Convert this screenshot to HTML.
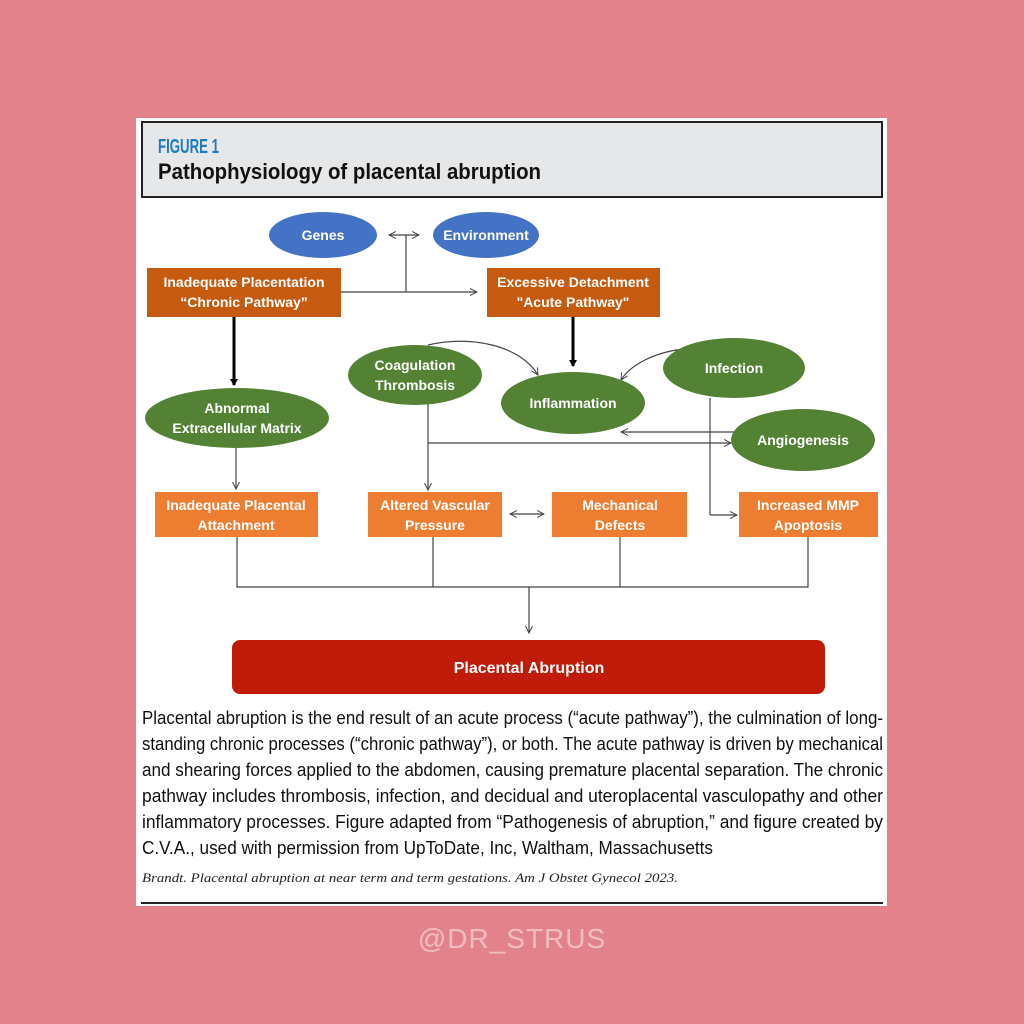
<!DOCTYPE html>
<html><head><meta charset="utf-8"><style>
html,body{margin:0;padding:0;background:#e2838c;}
svg{display:block;}
</style></head><body>
<svg width="1024" height="1024" viewBox="0 0 1024 1024" xmlns="http://www.w3.org/2000/svg" font-family="Liberation Sans, sans-serif">
<defs>
<marker id="a" markerWidth="8" markerHeight="8" refX="7" refY="4" orient="auto" markerUnits="userSpaceOnUse"><path d="M0,0.5 L7,4 L0,7.5" fill="none" stroke="#444" stroke-width="1"/></marker>
<marker id="as" markerWidth="8" markerHeight="8" refX="1" refY="4" orient="auto" markerUnits="userSpaceOnUse"><path d="M8,0.5 L1,4 L8,7.5" fill="none" stroke="#444" stroke-width="1"/></marker>
<marker id="b" markerWidth="8" markerHeight="8" refX="6" refY="4" orient="auto" markerUnits="userSpaceOnUse"><path d="M0,0 L7,4 L0,8 Z" fill="#000"/></marker>
</defs>
<rect x="0" y="0" width="1024" height="1024" fill="#e2838c"/>
<rect x="136" y="118" width="751" height="788" fill="#fff"/>
<rect x="142" y="122" width="740" height="75" fill="#e6e7e8" stroke="#222" stroke-width="2"/>
<text x="158" y="153" font-size="20" font-weight="bold" fill="#1a7dc2" textLength="61" lengthAdjust="spacingAndGlyphs">FIGURE 1</text>
<text x="158" y="179" font-size="22" font-weight="bold" fill="#111" textLength="383" lengthAdjust="spacingAndGlyphs">Pathophysiology of placental abruption</text>

<g stroke="#444" stroke-width="1.2" fill="none">
<line x1="389" y1="235" x2="419" y2="235" marker-end="url(#a)" marker-start="url(#as)"/>
<line x1="406" y1="235" x2="406" y2="292"/>
<line x1="341" y1="292" x2="477" y2="292" marker-end="url(#a)"/>
<path d="M428,345 C470,335 520,345 538,375" marker-end="url(#a)"/>
<path d="M684,349 C655,352 630,365 621,380" marker-end="url(#a)"/>
<line x1="428" y1="404" x2="428" y2="490" marker-end="url(#a)"/>
<line x1="428" y1="443" x2="731" y2="443" marker-end="url(#a)"/>
<line x1="734" y1="432" x2="621" y2="432" marker-end="url(#a)"/>
<line x1="710" y1="398" x2="710" y2="515"/>
<line x1="710" y1="515" x2="737" y2="515" marker-end="url(#a)"/>
<line x1="236" y1="448" x2="236" y2="489" marker-end="url(#a)"/>
<line x1="510" y1="514" x2="544" y2="514" marker-end="url(#a)" marker-start="url(#as)"/>
<polyline points="237,537 237,587 808,587 808,537"/>
<line x1="433" y1="537" x2="433" y2="587"/>
<line x1="620" y1="537" x2="620" y2="587"/>
<line x1="529" y1="587" x2="529" y2="633" marker-end="url(#a)"/>
</g>
<g stroke="#000" stroke-width="3">
<line x1="234" y1="317" x2="234" y2="385" marker-end="url(#b)"/>
<line x1="573" y1="317" x2="573" y2="366" marker-end="url(#b)"/>
</g>

<g fill="#4472c4"><ellipse cx="323" cy="235" rx="54" ry="23"/><ellipse cx="486" cy="235" rx="53" ry="23"/></g>
<g fill="#c55a11"><rect x="147" y="268" width="194" height="49"/><rect x="487" y="268" width="173" height="49"/></g>
<g fill="#548235">
<ellipse cx="415" cy="375" rx="67" ry="30"/>
<ellipse cx="573" cy="403" rx="72" ry="31"/>
<ellipse cx="734" cy="368" rx="71" ry="30"/>
<ellipse cx="803" cy="440" rx="72" ry="31"/>
<ellipse cx="237" cy="418" rx="92" ry="30"/>
</g>
<g fill="#ed7d31"><rect x="155" y="492" width="163" height="45"/><rect x="368" y="492" width="134" height="45"/><rect x="552" y="492" width="135" height="45"/><rect x="739" y="492" width="139" height="45"/></g>
<rect x="232" y="640" width="593" height="54" rx="8" fill="#c01a08"/>

<g fill="#fff" font-size="14" font-weight="bold" text-anchor="middle">
<text x="323" y="240">Genes</text><text x="486" y="240">Environment</text>
<text x="244" y="287">Inadequate Placentation</text><text x="244" y="307">“Chronic Pathway”</text>
<text x="573" y="287">Excessive Detachment</text><text x="573" y="307">"Acute Pathway"</text>
<text x="415" y="370">Coagulation</text><text x="415" y="390">Thrombosis</text>
<text x="573" y="408">Inflammation</text>
<text x="734" y="373">Infection</text>
<text x="803" y="445">Angiogenesis</text>
<text x="237" y="413">Abnormal</text><text x="237" y="433">Extracellular Matrix</text>
<text x="236" y="510">Inadequate Placental</text><text x="236" y="530">Attachment</text>
<text x="435" y="510">Altered Vascular</text><text x="435" y="530">Pressure</text>
<text x="620" y="510">Mechanical</text><text x="620" y="530">Defects</text>
<text x="808" y="510">Increased MMP</text><text x="808" y="530">Apoptosis</text>
<text x="529" y="673" font-size="16">Placental Abruption</text>
</g>

<g font-size="18" fill="#111">
<text x="142" y="724" textLength="741" lengthAdjust="spacingAndGlyphs">Placental abruption is the end result of an acute process (“acute pathway”), the culmination of long-</text>
<text x="142" y="750" textLength="741" lengthAdjust="spacingAndGlyphs">standing chronic processes (“chronic pathway”), or both. The acute pathway is driven by mechanical</text>
<text x="142" y="776" textLength="741" lengthAdjust="spacingAndGlyphs">and shearing forces applied to the abdomen, causing premature placental separation. The chronic</text>
<text x="142" y="802" textLength="741" lengthAdjust="spacingAndGlyphs">pathway includes thrombosis, infection, and decidual and uteroplacental vasculopathy and other</text>
<text x="142" y="828" textLength="741" lengthAdjust="spacingAndGlyphs">inflammatory processes. Figure adapted from “Pathogenesis of abruption,” and figure created by</text>
<text x="142" y="854" textLength="571" lengthAdjust="spacingAndGlyphs">C.V.A., used with permission from UpToDate, Inc, Waltham, Massachusetts</text>
</g>
<text x="142" y="882" font-size="13" font-style="italic" font-family="Liberation Serif, serif" fill="#222" textLength="536" lengthAdjust="spacingAndGlyphs">Brandt. Placental abruption at near term and term gestations. Am J Obstet Gynecol 2023.</text>
<line x1="141" y1="903" x2="883" y2="903" stroke="#222" stroke-width="2"/>
<text x="512" y="948" font-size="28" fill="#f3bcc1" text-anchor="middle" letter-spacing="1">@DR_STRUS</text>
</svg>
</body></html>
